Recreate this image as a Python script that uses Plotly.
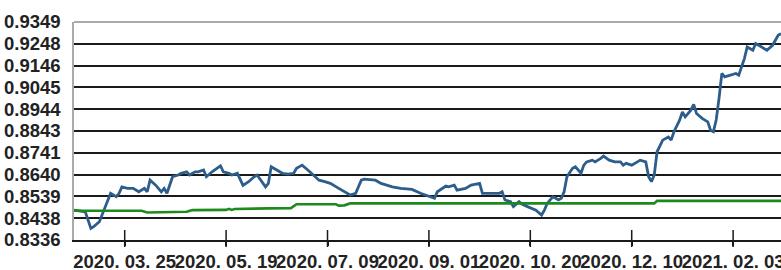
import plotly.graph_objects as go

# Blue series: trading-day index and value
blue_idx = [0, 4, 6, 7, 9, 10, 12, 13, 15, 16, 17, 19, 21, 23, 25, 26, 27, 29, 31, 32, 33, 35, 37, 38, 40,
            41, 43, 44, 46, 47, 49, 51, 52, 53, 55, 56, 58, 60, 62, 64, 65, 68, 69, 70, 72, 74, 76, 78, 79,
            81, 83, 85, 87, 89, 91, 94, 96, 98, 100, 102, 103, 107, 109, 113, 116, 120, 123, 127, 128, 129,
            132, 133, 135, 136, 139, 141, 144, 145, 148, 151, 152, 153, 155, 156, 158, 159, 161, 164, 166,
            167, 168, 170, 171, 172, 173, 174, 175, 177, 178, 180, 181, 182, 184, 185, 187, 188, 190, 192,
            194, 195, 196, 198, 200, 201, 203, 204, 205, 206, 207, 209, 211, 212, 213, 215, 216, 217, 219,
            220, 221, 223, 225, 226, 227, 228, 229, 230, 231, 233, 235, 236, 237, 238, 239, 241, 242, 244,
            246, 248, 249, 250, 251]
blue_val = [0.8475, 0.8467, 0.8390, 0.8398, 0.8421, 0.8452, 0.8514, 0.8553, 0.8537, 0.8553, 0.8583, 0.8576,
            0.8576, 0.8560, 0.8576, 0.8560, 0.8614, 0.8591, 0.8560, 0.8576, 0.8553, 0.8630, 0.8638, 0.8646,
            0.8653, 0.8638, 0.8653, 0.8653, 0.8661, 0.8630, 0.8653, 0.8669, 0.8681, 0.8653, 0.8646, 0.8638,
            0.8646, 0.8590, 0.8607, 0.8630, 0.8638, 0.8583, 0.8599, 0.8676, 0.8661, 0.8646, 0.8642, 0.8646,
            0.8669, 0.8684, 0.8661, 0.8638, 0.8614, 0.8607, 0.8599, 0.8576, 0.8560, 0.8545, 0.8553, 0.8614,
            0.8619, 0.8614, 0.8599, 0.8583, 0.8576, 0.8571, 0.8553, 0.8537, 0.8530, 0.8560, 0.8587, 0.8583,
            0.8591, 0.8568, 0.8576, 0.8591, 0.8599, 0.8553, 0.8553, 0.8553, 0.8560, 0.8522, 0.8514, 0.8491,
            0.8514, 0.8503, 0.8491, 0.8475, 0.8452, 0.8475, 0.8506, 0.8537, 0.8530, 0.8522, 0.8530, 0.8560,
            0.8630, 0.8669, 0.8676, 0.8646, 0.8684, 0.8699, 0.8707, 0.8699, 0.8715, 0.8726, 0.8707, 0.8699,
            0.8699, 0.8684, 0.8692, 0.8684, 0.8699, 0.8707, 0.8699, 0.8630, 0.8607, 0.8638, 0.8746, 0.8800,
            0.8815, 0.8800, 0.8839, 0.8893, 0.8931, 0.8908, 0.8939, 0.8966, 0.8924, 0.8901, 0.8885, 0.8846,
            0.8839, 0.8895, 0.8994, 0.9110, 0.9094, 0.9102, 0.9110, 0.9102, 0.9140, 0.9179, 0.9233, 0.9218,
            0.9249, 0.9233, 0.9218, 0.9241, 0.9264, 0.9287, 0.9295]

# Green series: trading-day index and value
green_idx = [0, 24, 26, 30, 31, 40, 42, 54, 55, 56, 57, 68, 69, 77, 79, 93, 94, 96, 98, 206, 207, 251]
green_val = [0.8472, 0.8472, 0.8464, 0.8464, 0.8467, 0.8467, 0.8475, 0.8476, 0.8481, 0.8476, 0.8480, 0.8480,
             0.8483, 0.8484, 0.8502, 0.8502, 0.8496, 0.8497, 0.8506, 0.8506, 0.8518, 0.8518]

# Axis ticks
x_tick_idx = [18, 54, 90, 126, 162, 198, 234]
x_tick_labels = ["2020. 03. 25", "2020. 05. 19", "2020. 07. 09", "2020. 09. 01",
                 "2020. 10. 20", "2020. 12. 10", "2021. 02. 03"]
y_tick_labels = ["0.8336", "0.8438", "0.8539", "0.8640", "0.8741", "0.8843",
                 "0.8944", "0.9045", "0.9146", "0.9248", "0.9349"]
y_tick_vals = [float(s) for s in y_tick_labels]

FONT = dict(family="Liberation Sans, Arial, sans-serif", size=18.5, color="#222222", weight="bold")

fig = go.Figure()
fig.add_trace(go.Scatter(x=blue_idx, y=blue_val, mode="lines",
                         line=dict(color="#2d5d8b", width=2.8), hoverinfo="skip"))
fig.add_trace(go.Scatter(x=green_idx, y=green_val, mode="lines",
                         line=dict(color="#1d8a1d", width=2.6), hoverinfo="skip"))

shapes = []
# x tick marks crossing the axis
for t in x_tick_idx:
    shapes.append(dict(type="line", xref="x", yref="paper", x0=t, x1=t, y0=-0.032, y1=0.046,
                       line=dict(color="#1a1a1a", width=1.5), layer="above"))
# light top border
shapes.append(dict(type="line", xref="paper", yref="paper", x0=0, x1=1, y0=1, y1=1,
                   line=dict(color="#aaaaaa", width=2), layer="above"))

fig.update_layout(
    width=781, height=270,
    margin=dict(l=74, r=0, t=22, b=30, autoexpand=False),
    paper_bgcolor="white", plot_bgcolor="white",
    showlegend=False,
    shapes=shapes,
    xaxis=dict(range=[0, 251], tickmode="array", tickvals=x_tick_idx, ticktext=x_tick_labels,
               showgrid=False, zeroline=False, showline=True, linecolor="#1a1a1a", linewidth=2,
               ticks="outside", ticklen=4, tickwidth=1.5, tickcolor="#1a1a1a",
               tickfont=FONT, ticklabelstandoff=0, tickangle=0, automargin=False,
               ticklabeloverflow="allow"),
    yaxis=dict(range=[0.8336, 0.9349], tickmode="array", tickvals=y_tick_vals, ticktext=y_tick_labels,
               showgrid=True, gridcolor="#1a1a1a", gridwidth=1.6, zeroline=False,
               showline=True, linecolor="#aaaaaa", linewidth=1.5, ticks="",
               tickfont=FONT, ticklabelstandoff=8, automargin=False),
)

fig.write_html("out.html", config={"displayModeBar": False},
               post_script="document.body.style.margin='0';document.body.style.overflow='hidden';")
